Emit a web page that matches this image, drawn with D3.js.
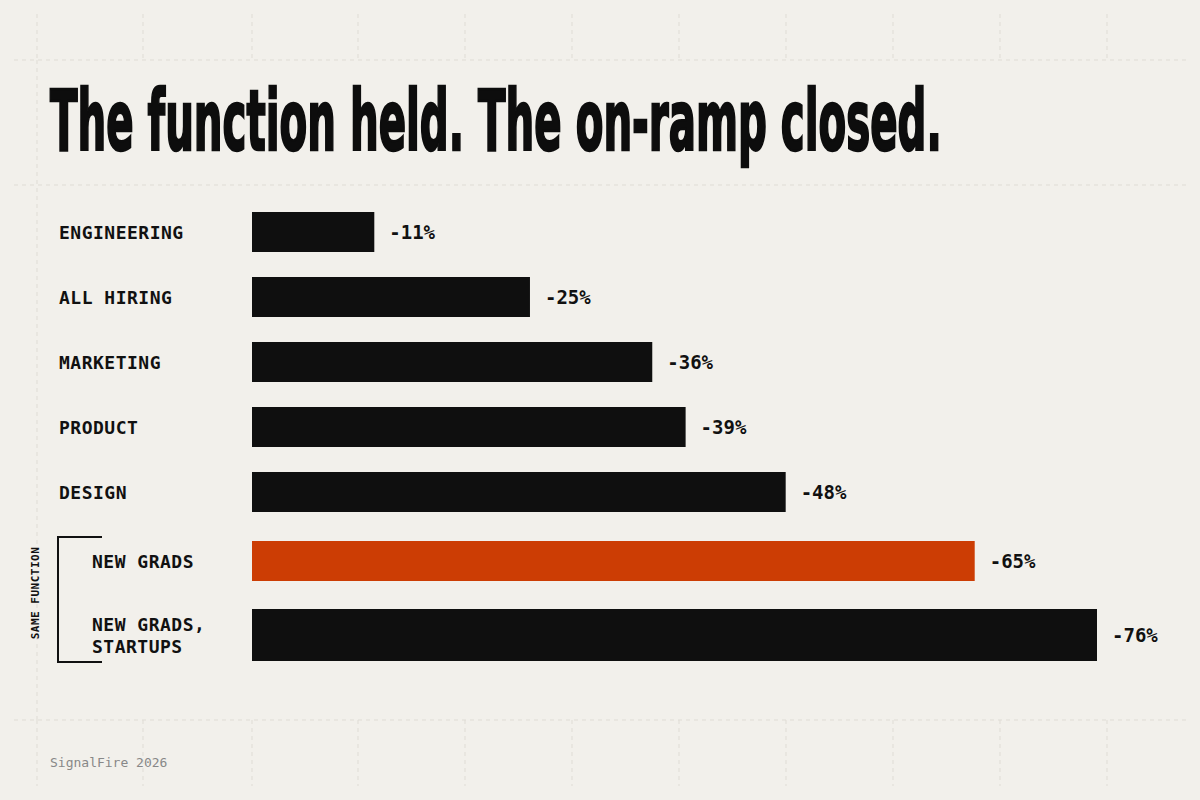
<!doctype html>
<html>
<head>
<style>
  body { margin: 0; background: #f2f0eb; }
  text { font-family: "DejaVu Sans Mono", monospace; }
</style>
<script src="https://d3js.org/d3.v7.min.js"></script>
</head>
<body>
<svg width="1200" height="800"></svg>
<script>
var categories = [["ENGINEERING"], ["ALL HIRING"], ["MARKETING"], ["PRODUCT"], ["DESIGN"], ["NEW GRADS"], ["NEW GRADS,", "STARTUPS"]];
var values = [-11, -25, -36, -39, -48, -65, -76];
var highlight = "NEW GRADS";

var svg = d3.select("svg");
svg.append("rect").attr("width", 1200).attr("height", 800).attr("fill", "#f2f0eb");

// faint guide grid
var grid = svg.append("g").attr("stroke", "#dfdcd5").attr("stroke-dasharray", "4,4").attr("stroke-width", 1);
[60, 185, 720].forEach(function (y) { grid.append("line").attr("x1", 14).attr("x2", 1186).attr("y1", y).attr("y2", y); });
[37, 143, 252, 358, 465, 572, 679, 786, 893, 1000, 1107].forEach(function (x) {
  grid.append("line").attr("x1", x).attr("x2", x).attr("y1", 14).attr("y2", 60);
  grid.append("line").attr("x1", x).attr("x2", x).attr("y1", 720).attr("y2", 786);
});
grid.append("line").attr("x1", 37).attr("x2", 37).attr("y1", 60).attr("y2", 720);

// title
var title = svg.append("text")
  .attr("x", 50).attr("y", 150)
  .style("font-family", "'DejaVu Sans Condensed', 'DejaVu Sans', sans-serif")
  .style("font-weight", "bold").style("font-size", "84px").attr("fill", "#0d0d0d")
  .attr("stroke", "#0d0d0d").attr("stroke-width", 2.5)
  .text("The function held. The on-ramp closed.");
var tw = title.node().getComputedTextLength();
title.attr("transform", "translate(50,0) scale(" + (892 / tw) + ",1) translate(-50,0)");

var x = d3.scaleLinear().domain([0, 76]).range([252, 1097]);
var y = d3.scalePoint().domain(d3.range(categories.length)).range([232, 622]);
function cy(i) { return categories[i].length > 1 ? y(i) + 13 : (i === 5 ? y(i) + 4 : y(i)); }
function bh(i) { return categories[i].length > 1 ? 52 : 40; }

var rows = svg.selectAll(".row").data(values).enter().append("g").attr("class", "row");

rows.append("rect")
  .attr("x", x(0))
  .attr("y", function (d, i) { return cy(i) - bh(i) / 2; })
  .attr("width", function (d) { return x(-d) - x(0); })
  .attr("height", function (d, i) { return bh(i); })
  .attr("fill", function (d, i) { return categories[i][0] === highlight ? "#cc3d04" : "#0f0f0f"; });

rows.append("text")
  .attr("x", function (d) { return x(-d) + 15; })
  .attr("y", function (d, i) { return cy(i) + 7; })
  .style("font-size", "19px").style("font-weight", "bold").attr("fill", "#111")
  .text(function (d) { return "-" + Math.abs(d) + "%"; });

rows.each(function (d, i) {
  var lx = i >= 5 ? 92 : 59;
  var lbl = d3.select(this).append("text")
    .attr("x", lx)
    .style("font-size", "18px").style("font-weight", "bold").style("letter-spacing", "0.5px").attr("fill", "#111");
  var n = categories[i].length;
  categories[i].forEach(function (line, k) {
    lbl.append("tspan").attr("x", lx)
      .attr("y", cy(i) + 7 + (k - (n - 1) / 2) * 22).text(line);
  });
});

// bracket for "same function"
svg.append("path")
  .attr("d", "M102,537 H58 V662 H102")
  .attr("fill", "none").attr("stroke", "#111").attr("stroke-width", 2);
svg.append("text")
  .attr("transform", "translate(39,593) rotate(-90)")
  .attr("text-anchor", "middle")
  .style("font-size", "11px").style("font-weight", "bold").style("letter-spacing", "0.5px").attr("fill", "#111")
  .text("SAME FUNCTION");

svg.append("text")
  .attr("x", 50).attr("y", 767)
  .style("font-size", "13px").attr("fill", "#888")
  .text("SignalFire 2026");
</script>
</body>
</html>
